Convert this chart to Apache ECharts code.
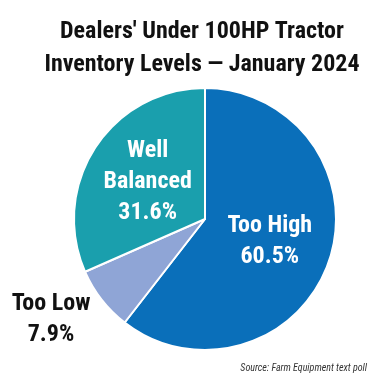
<!DOCTYPE html>
<html>
<head>
<meta charset="utf-8">
<script src="https://cdn.jsdelivr.net/npm/echarts@6/dist/echarts.min.js"></script>
<style>html,body{margin:0;padding:0;background:#fff;}#c{width:386px;height:380px;}</style>
</head>
<body>
<div id="c"></div>
<script>
const categories = ['Too High', 'Too Low', 'Well Balanced'];
const labelNames = ['Too High', 'Too Low', 'Well\nBalanced'];
const values = [60.5, 7.9, 31.6];
const colors = ['#0a6fba', '#8fa5d6', '#1a9fad'];
const titleText = "Dealers' Under 100HP Tractor\nInventory Levels \u2014 January 2024";
const sourceText = 'Source: Farm Equipment text poll';

const FONT = "'Roboto Condensed','Roboto',sans-serif";
const chart = echarts.init(document.getElementById('c'), null, {renderer: 'canvas'});
const data = categories.map((c, i) => {
  const d = {name: c, value: values[i], itemStyle: {color: colors[i]}};
  if (c === 'Too Low') {
    d.label = {color: '#111', offset: [-100, 58]};
  }
  return d;
});
chart.setOption({
  animation: false,
  title: [{
    text: titleText,
    left: 197, top: 10, padding: 5,
    textAlign: 'center',
    textStyle: {fontFamily: FONT, fontWeight: 'bold', fontSize: 24, lineHeight: 33, color: '#111'}
  }, {
    text: sourceText,
    right: 14, top: 358,
    textStyle: {fontFamily: FONT, fontStyle: 'italic', fontWeight: 'normal', fontSize: 10, color: '#333'}
  }],
  series: [{
    type: 'pie',
    center: [205, 219],
    radius: 131,
    startAngle: 90,
    clockwise: true,
    itemStyle: {borderColor: '#fff', borderWidth: 2},
    labelLine: {show: false},
    label: {
      show: true,
      position: 'inside',
      fontFamily: FONT, fontWeight: 'bold', fontSize: 24, lineHeight: 31,
      color: '#fff', align: 'center',
      formatter: p => labelNames[p.dataIndex] + '\n' + values[p.dataIndex].toFixed(1) + '%'
    },
    data: data
  }]
});
</script>
</body>
</html>
